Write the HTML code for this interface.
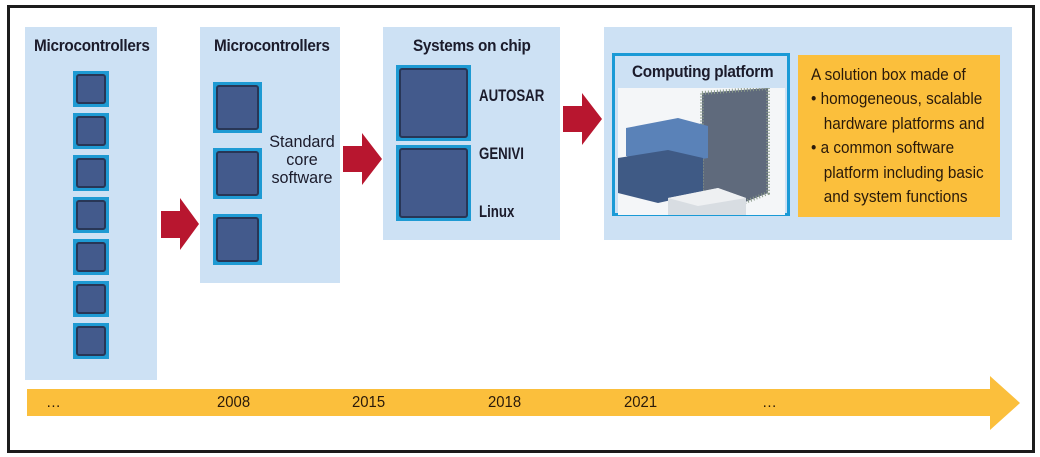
<!DOCTYPE html>
<html><head><style>
body{margin:0;width:1040px;height:457px;background:#fff;position:relative;font-family:"Liberation Sans",Arial,sans-serif;overflow:hidden}
.a{position:absolute}
.p{position:absolute;background:#cde1f4}
.t{position:absolute;font-weight:bold;font-size:17px;color:#1b1b2b;letter-spacing:-0.3px;transform:scaleX(0.9);transform-origin:left;white-space:nowrap}
.c{position:absolute;background:#1e9ad3;padding:3px}
.c div{width:100%;height:100%;box-sizing:border-box;background:#435a8c;border:2px solid #283656;border-radius:3px}
.l{position:absolute;font-size:17px;color:#1b1b2b;white-space:nowrap}
.b{font-weight:bold;transform:scaleX(0.78);transform-origin:left}
.y{position:absolute;top:394px;font-size:16px;color:#2a1a0a;transform:scaleX(0.93);transform-origin:left}
</style></head><body>
<div class="a" style="left:7px;top:5px;width:1022px;height:442px;border:3px solid #1c1c1c"></div>

<div class="p" style="left:25px;top:27px;width:132px;height:353px"></div>
<div class="t" style="left:34px;top:36px">Microcontrollers</div>
<div class="c" style="left:73px;top:71px;width:30px;height:30px"><div></div></div>
<div class="c" style="left:73px;top:113px;width:30px;height:30px"><div></div></div>
<div class="c" style="left:73px;top:155px;width:30px;height:30px"><div></div></div>
<div class="c" style="left:73px;top:197px;width:30px;height:30px"><div></div></div>
<div class="c" style="left:73px;top:239px;width:30px;height:30px"><div></div></div>
<div class="c" style="left:73px;top:281px;width:30px;height:30px"><div></div></div>
<div class="c" style="left:73px;top:323px;width:30px;height:30px"><div></div></div>

<div class="p" style="left:200px;top:27px;width:140px;height:256px"></div>
<div class="t" style="left:214px;top:36px">Microcontrollers</div>
<div class="c" style="left:213px;top:82px;width:43px;height:45px"><div></div></div>
<div class="c" style="left:213px;top:148px;width:43px;height:45px"><div></div></div>
<div class="c" style="left:213px;top:214px;width:43px;height:45px"><div></div></div>
<div class="l" style="left:266px;top:133px;width:72px;text-align:center;line-height:18px;transform:scaleX(0.95)">Standard<br>core<br>software</div>

<div class="p" style="left:383px;top:27px;width:177px;height:213px"></div>
<div class="t" style="left:413px;top:36px">Systems on chip</div>
<div class="c" style="left:396px;top:65px;width:69px;height:70px"><div></div></div>
<div class="c" style="left:396px;top:145px;width:69px;height:70px"><div></div></div>
<div class="l b" style="left:479px;top:86px">AUTOSAR</div>
<div class="l b" style="left:479px;top:144px">GENIVI</div>
<div class="l b" style="left:479px;top:202px">Linux</div>

<div class="p" style="left:604px;top:27px;width:408px;height:213px"></div>
<div class="a" style="left:612px;top:53px;width:172px;height:157px;border:3px solid #1a9ad6;background:#cde1f4"></div>
<div class="t" style="left:632px;top:62px">Computing platform</div>
<svg class="a" style="left:618px;top:88px" width="167" height="127">
<rect width="167" height="127" fill="#f4f6f8"/>
<polygon points="84,5 150,0 150,105 94,127 84,120" fill="#5f6a7c"/>
<polygon points="84,5 150,0 150,105 94,127 84,120" fill="none" stroke="#8a9a8a" stroke-width="4" stroke-dasharray="1,2"/>
<polygon points="8,40 60,30 90,38 90,70 40,78 8,68" fill="#5a82b8"/>
<polygon points="0,70 50,62 85,70 85,105 40,115 0,105" fill="#3f5a85"/>
<polygon points="50,110 100,100 128,110 128,140 50,140" fill="#d8dde2"/>
<polygon points="50,110 100,100 128,110 80,118" fill="#eef0f2"/>
</svg>
<div class="a" style="left:798px;top:55px;width:202px;height:162px;background:#fbbf3c"></div>
<div class="l" style="left:811px;top:63px;font-size:17px;line-height:24.4px;color:#2a1a0a;transform:scaleX(0.9);transform-origin:left">A solution box made of<br>• homogeneous, scalable<br>&nbsp;&nbsp;&nbsp;hardware platforms and<br>• a common software<br>&nbsp;&nbsp;&nbsp;platform including basic<br>&nbsp;&nbsp;&nbsp;and system functions</div>

<svg class="a" style="left:0;top:0" width="1040" height="457">
<polygon points="161,211 180,211 180,198 199,224 180,250 180,238 161,238" fill="#b8162f"/>
<polygon points="343,146 362,146 362,133 382,159 362,185 362,172 343,172" fill="#b8162f"/>
<polygon points="563,106 582,106 582,93 602,119 582,145 582,132 563,132" fill="#b8162f"/>
<polygon points="27,389 990,389 990,376 1020,403 990,430 990,416 27,416" fill="#fbbf3c"/>
</svg>
<div class="y" style="left:46px">…</div>
<div class="y" style="left:217px">2008</div>
<div class="y" style="left:352px">2015</div>
<div class="y" style="left:488px">2018</div>
<div class="y" style="left:624px">2021</div>
<div class="y" style="left:762px">…</div>
</body></html>
